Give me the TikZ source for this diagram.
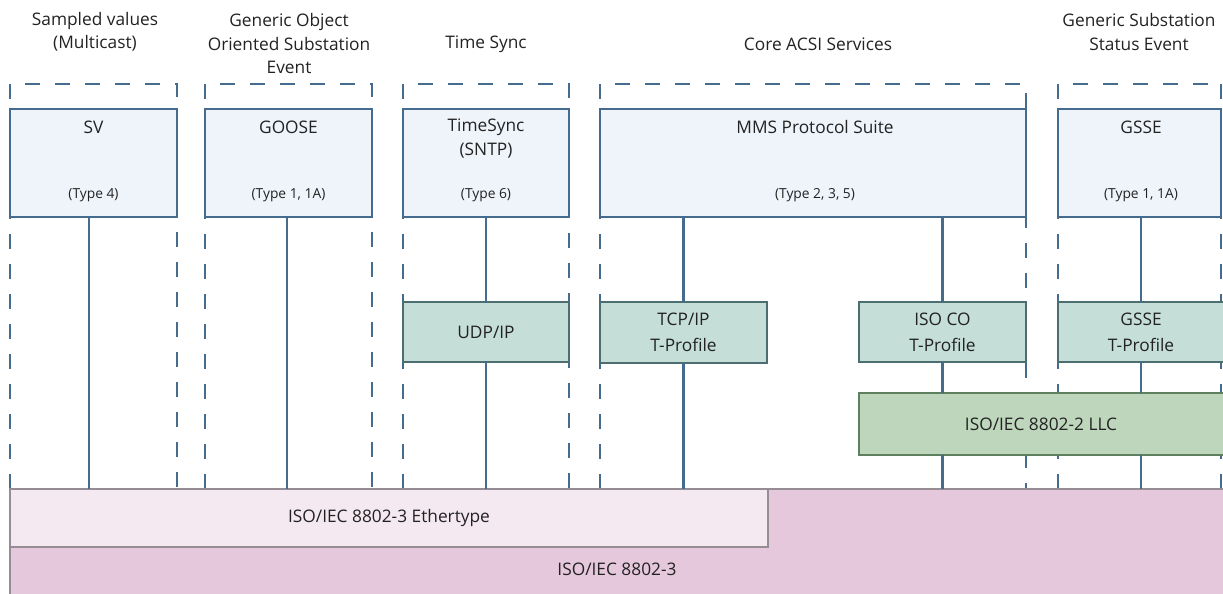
\documentclass[tikz,border=0pt]{standalone}
\usepackage{fontspec}
\setmainfont{Open Sans}
\definecolor{lblue}{RGB}{69,108,143}
\definecolor{bfill}{RGB}{239,244,251}
\definecolor{gfill}{RGB}{197,222,216}
\definecolor{gdraw}{RGB}{76,110,112}
\definecolor{lfill}{RGB}{190,215,188}
\definecolor{ldraw}{RGB}{95,128,95}
\definecolor{efill}{RGB}{244,233,240}
\definecolor{edraw}{RGB}{150,140,148}
\definecolor{pfill}{RGB}{230,200,220}
\definecolor{txt}{RGB}{34,34,34}
\begin{document}
\begin{tikzpicture}[x=1pt,y=-1pt,
  every node/.style={text=txt, outer sep=0},
  hdr/.style={font=\fontsize{17.3}{23.5}\selectfont, align=center, inner sep=0},
  big/.style={font=\fontsize{17.3}{24}\selectfont, align=center, inner sep=0},
  small/.style={font=\fontsize{13.8}{16}\selectfont, inner sep=0},
  dashcol/.style={draw=lblue, line width=2.5pt, dash pattern=on 15pt off 15pt},
  bluebox/.style={draw=lblue, fill=bfill, line width=2.5pt, anchor=north west, inner sep=0},
  greenbox/.style={draw=gdraw, fill=gfill, line width=2.5pt, anchor=north west, inner sep=0, font=\fontsize{17.3}{26}\selectfont, align=center},
  llcbox/.style={draw=ldraw, fill=lfill, line width=2.5pt, anchor=north west, inner sep=0},
  link/.style={draw=lblue, line width=2.5pt},
]
\useasboundingbox (0,0) rectangle (1223,594);

% headers
\node[hdr] (h1) at (95,32) {Sampled values\\(Multicast)};
\node[hdr] (h2) at (289,44) {Generic Object\\Oriented Substation\\Event};
\node[hdr] (h3) at (486,44) {Time Sync};
\node[hdr] (h4) at (818,44) {Core ACSI Services};
\node[hdr] (h5) at (1139,32) {Generic Substation\\Status Event};

% dashed column frames
\draw[dashcol] (10,489) -- (10,84) -- (177,84) -- (177,489);
\draw[dashcol] (205,489) -- (205,84) -- (372,84) -- (372,489);
\draw[dashcol] (403,489) -- (403,84) -- (569,84) -- (569,489);
\draw[dashcol] (600,489) -- (600,84) -- (1026,84) -- (1026,489);
\draw[dashcol] (1058,489) -- (1058,84) -- (1240,84);
\draw[dashcol] (1221,84) -- (1221,489);

% bottom layers
\node[fill=pfill, draw=edraw, line width=2pt, anchor=north west, minimum width=1230, minimum height=120, inner sep=0] (base) at (10,489) {};
\node[font=\fontsize{17.3}{24}\selectfont, inner sep=0] (basetxt) at (617,569) {ISO/IEC 8802-3};
\node[fill=efill, draw=edraw, line width=2pt, anchor=north west, minimum width=758, minimum height=58, inner sep=0, font=\fontsize{17.3}{24}\selectfont] (eth) at (10,489) {ISO/IEC 8802-3 Ethertype};

% top protocol boxes
\node[bluebox, minimum width=167, minimum height=108] (sv) at (10,109) {};
\node[bluebox, minimum width=167, minimum height=108] (goose) at (205,109) {};
\node[bluebox, minimum width=166, minimum height=108] (ts) at (403,109) {};
\node[bluebox, minimum width=426, minimum height=108] (mms) at (600,109) {};
\node[bluebox, minimum width=163, minimum height=108] (gsse) at (1058,109) {};

\node[big] (svt) at (93.5,127) {SV};
\node[small] (svs) at (93.5,195) {(Type 4)};
\node[big] (gooset) at (288.5,127) {GOOSE};
\node[small] (gooses) at (288.5,195) {(Type 1, 1A)};
\node[big] (tst) at (486,139) {TimeSync\\(SNTP)};
\node[small] (tss) at (486,195) {(Type 6)};
\node[big] (mmst) at (815,127) {MMS Protocol Suite};
\node[small] (mmss) at (815,195) {(Type 2, 3, 5)};
\node[big] (gsset) at (1141,127) {GSSE};
\node[small] (gsses) at (1141,195) {(Type 1, 1A)};

% middle boxes
\node[greenbox, minimum width=166, minimum height=60] (udp) at (403,302) {UDP/IP};
\node[greenbox, minimum width=167, minimum height=61] (tcp) at (600,302) {TCP/IP\\T-Profile};
\node[greenbox, minimum width=167, minimum height=60] (isoco) at (859,302) {ISO CO\\T-Profile};
\node[greenbox, minimum width=166, minimum height=60] (gtp) at (1058,302) {GSSE\\T-Profile};
\node[llcbox, minimum width=380, minimum height=62] (llc) at (859,393) {};
\node[font=\fontsize{17.3}{24}\selectfont, inner sep=0] (llct) at (1041,424) {ISO/IEC 8802-2 LLC};

% connectors
\draw[link] ([xshift=-4.5pt]sv.south) -- ([xshift=-4.5pt]sv.south |- base.north);
\draw[link] ([xshift=-1.5pt]goose.south) -- ([xshift=-1.5pt]goose.south |- base.north);
\draw[link] (ts.south) -- (udp.north);
\draw[link] (udp.south) -- (udp.south |- base.north);
\draw[link] (tcp.north |- mms.south) -- (tcp.north);
\draw[link] (tcp.south) -- (tcp.south |- base.north);
\draw[link] (isoco.north |- mms.south) -- (isoco.north);
\draw[link] (isoco.south) -- (isoco.south |- llc.north);
\draw[link] (isoco.south |- llc.south) -- (isoco.south |- base.north);
\draw[link] (gtp.north |- gsse.south) -- (gtp.north);
\draw[link] (gtp.south) -- (gtp.south |- llc.north);
\draw[link] (gtp.south |- llc.south) -- (gtp.south |- base.north);
\end{tikzpicture}
\end{document}
